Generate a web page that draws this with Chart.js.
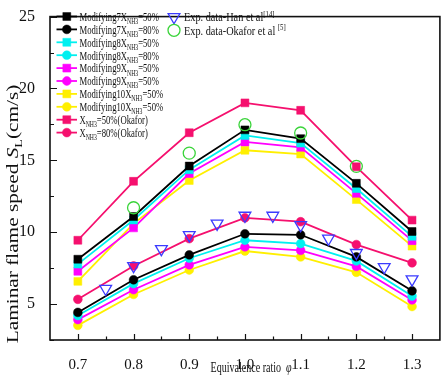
<!DOCTYPE html>
<html>
<head>
<meta charset="utf-8">
<script src="https://cdn.jsdelivr.net/npm/chart.js@4"></script>
<style>
  html, body { margin: 0; padding: 0; background: #fff; }
  #wrap { width: 448px; height: 384px; position: relative; }
</style>
</head>
<body>
<div id="wrap"><canvas id="chart"></canvas></div>
<script>
// ─── DATA ────────────────────────────────────────────────────
const phi = [0.7, 0.8, 0.9, 1.0, 1.1, 1.2, 1.3];

const mod7_50  = [8.12, 11.09, 14.60, 17.12, 16.51, 13.40, 10.05];
const mod7_80  = [4.42, 6.69, 8.42, 9.89, 9.82, 8.28, 5.92];
const mod8_50  = [7.78, 10.85, 14.35, 16.73, 16.20, 13.04, 9.71];
const mod8_80  = [4.20, 6.42, 8.19, 9.44, 9.21, 8.00, 5.56];
const mod9_50  = [7.28, 10.30, 14.08, 16.28, 15.90, 12.70, 9.41];
const mod9_80  = [3.92, 6.00, 7.73, 8.98, 8.73, 7.62, 5.29];
const mod10_50 = [6.58, 10.60, 13.60, 15.70, 15.44, 12.27, 9.03];
const mod10_80 = [3.52, 5.67, 7.37, 8.69, 8.28, 7.21, 4.83];
const okafor50 = [9.44, 13.54, 16.92, 19.00, 18.48, 14.55, 10.84];
const okafor80 = [5.33, 7.65, 9.55, 11.00, 10.73, 9.14, 7.87];

const hanPhi   = [0.75, 0.8, 0.85, 0.9, 0.95, 1.0, 1.05, 1.1, 1.15, 1.2, 1.25, 1.3];
const hanSpeed = [6.07, 7.65, 8.83, 9.80, 10.60, 11.15, 11.15, 10.50, 9.56, 8.56, 7.58, 6.72];

const okaforExpPhi   = [0.8, 0.9, 1.0, 1.1, 1.2];
const okaforExpSpeed = [11.70, 15.50, 17.48, 16.90, 14.58];

// ticks (minor ones unlabelled)
const xTickValues = [0.7, 0.75, 0.8, 0.85, 0.9, 0.95, 1.0, 1.05, 1.1, 1.15, 1.2, 1.25, 1.3];
const xMajor  = [0.7, 0.8, 0.9, 1.0, 1.1, 1.2, 1.3];
const xLabels = ['0.7', '0.8', '0.9', '1.0', '1.1', '1.2', '1.3'];
const yTickValues = [2.5, 5, 7.5, 10, 12.5, 15, 17.5, 20, 22.5, 25];
const yMajor  = [5, 10, 15, 20, 25];
const yLabels = ['5', '10', '15', '20', '25'];

// ─── COLOURS ─────────────────────────────────────────────────
const BLACK = '#000000', CYAN = '#00f0f0', MAGENTA = '#ff00ff',
      YELLOW = '#ffef00', PINK = '#f5106e', BLUE = '#3b3bff', GREEN = '#3ad43a';
const SERIF = '"Liberation Serif", "Times New Roman", serif';

function lineSet(label, values, color, style, order) {
    return {
        label,
        data: phi.map((x, i) => ({ x, y: values[i] })),
        borderColor: color,
        backgroundColor: color,
        pointStyle: style,
        pointRadius: style === 'rect' ? 5.6 : 4.4,
        pointBorderWidth: 0.5,
        pointBorderColor: color,
        borderWidth: 1.8,
        tension: 0,
        order
    };
}

const datasets = [
    lineSet('Modifying7X_{NH3}=50%',  mod7_50,  BLACK,   'rect',   2),
    lineSet('Modifying7X_{NH3}=80%',  mod7_80,  BLACK,   'circle', 2),
    lineSet('Modifying8X_{NH3}=50%',  mod8_50,  CYAN,    'rect',   3),
    lineSet('Modifying8X_{NH3}=80%',  mod8_80,  CYAN,    'circle', 3),
    lineSet('Modifying9X_{NH3}=50%',  mod9_50,  MAGENTA, 'rect',   4),
    lineSet('Modifying9X_{NH3}=50%',  mod9_80,  MAGENTA, 'circle', 4),
    lineSet('Modifying10X_{NH3}=50%', mod10_50, YELLOW,  'rect',   5),
    lineSet('Modifying10X_{NH3}=50%', mod10_80, YELLOW,  'circle', 5),
    lineSet('X_{NH3}=50%(Okafor)',    okafor50, PINK,    'rect',   6),
    lineSet('X_{NH3}=80%(Okafor)',    okafor80, PINK,    'circle', 6),
    {
        label: 'Exp. data-Han et al^{[14]}',
        data: hanPhi.map((x, i) => ({ x, y: hanSpeed[i] })),
        showLine: false,
        pointStyle: 'triangle',
        pointRotation: 180,
        pointRadius: 6.8,
        pointBorderWidth: 1.3,
        borderColor: BLUE,
        backgroundColor: 'rgba(0,0,0,0)',
        order: 0
    },
    {
        label: 'Exp. data-Okafor et al ^{[5]}',
        data: okaforExpPhi.map((x, i) => ({ x, y: okaforExpSpeed[i] })),
        showLine: false,
        pointStyle: 'circle',
        pointRadius: 6,
        pointBorderWidth: 1.3,
        borderColor: GREEN,
        backgroundColor: 'rgba(0,0,0,0)',
        order: 0
    }
];

// ─── RICH TEXT (sub / superscript / italic) ──────────────────
function parseRich(str) {
    const out = [];
    const re = /([_^~])\{([^}]*)\}/g;
    let last = 0, m;
    while ((m = re.exec(str))) {
        if (m.index > last) out.push({ t: str.slice(last, m.index), k: '' });
        out.push({ t: m[2], k: m[1] });
        last = re.lastIndex;
    }
    if (last < str.length) out.push({ t: str.slice(last), k: '' });
    return out;
}

function drawRich(ctx, str, x, y, size, sx, align) {
    const parts = parseRich(str);
    const fontFor = p => (p.k === '~' ? 'italic ' : '') +
        ((p.k === '_' || p.k === '^') ? size * 0.66 : size) + 'px ' + SERIF;
    let w = 0;
    parts.forEach(p => { ctx.font = fontFor(p); p.w = ctx.measureText(p.t).width; w += p.w; });
    ctx.save();
    ctx.translate(x, y);
    ctx.scale(sx, 1);
    ctx.textAlign = 'left';
    ctx.textBaseline = 'alphabetic';
    ctx.fillStyle = '#111';
    let cx = align === 'center' ? -w / 2 : 0;
    parts.forEach(p => {
        ctx.font = fontFor(p);
        const dy = p.k === '_' ? size * 0.24 : p.k === '^' ? -size * 0.36 : 0;
        ctx.fillText(p.t, cx, dy);
        cx += p.w;
    });
    ctx.restore();
}

function drawMarker(ctx, ds, x, y) {
    const r = ds.pointRadius;
    ctx.beginPath();
    if (ds.pointStyle === 'rect') {
        const s = r * Math.SQRT1_2;
        ctx.rect(x - s, y - s, 2 * s, 2 * s);
    } else if (ds.pointStyle === 'triangle') {
        const h = r * Math.sin(Math.PI / 3);
        ctx.moveTo(x - h, y - r / 2);
        ctx.lineTo(x + h, y - r / 2);
        ctx.lineTo(x, y + r);
        ctx.closePath();
    } else {
        ctx.arc(x, y, r, 0, Math.PI * 2);
    }
    ctx.fillStyle = ds.backgroundColor;
    ctx.fill();
    ctx.lineWidth = ds.pointBorderWidth;
    ctx.strokeStyle = ds.borderColor;
    ctx.stroke();
}

// ─── PLUGINS: frame, inward ticks, titles, legend ────────────
const decorPlugin = {
    id: 'decor',
    beforeDatasetsDraw(chart) {
        const { ctx, chartArea: a, scales } = chart;
        ctx.save();
        ctx.strokeStyle = '#111';
        ctx.lineWidth = 1.2;
        ctx.beginPath();
        scales.x.ticks.forEach(t => {
            const px = Math.round(scales.x.getPixelForValue(t.value)) + 0.5;
            const len = t.label ? 6 : 3.5;
            ctx.moveTo(px, a.bottom); ctx.lineTo(px, a.bottom - len);
        });
        scales.y.ticks.forEach(t => {
            const py = Math.round(scales.y.getPixelForValue(t.value)) + 0.5;
            const len = t.label ? 7 : 4;
            ctx.moveTo(a.left, py); ctx.lineTo(a.left + len, py);
        });
        ctx.stroke();
        ctx.lineWidth = 1.6;
        ctx.strokeRect(a.left, a.top, a.right - a.left, a.bottom - a.top);
        ctx.restore();
    },
    afterDraw(chart) {
        const ctx = chart.ctx;
        // axis titles
        drawRich(ctx, 'Equivalence ratio  ~{φ}', 210.5, 372, 15, 0.67, 'left');
        ctx.save();
        ctx.translate(18, 214);
        ctx.rotate(-Math.PI / 2);
        drawRich(ctx, 'Laminar flame speed ~{S}_{L}(cm/s)', 0, 0, 16, 1.33, 'center');
        ctx.restore();

        // legend, column 1
        const ds = chart.data.datasets;
        for (let i = 0; i < 10; i++) {
            const y = 16.5 + i * 12.9;
            ctx.save();
            ctx.strokeStyle = ds[i].borderColor;
            ctx.lineWidth = 1.8;
            ctx.beginPath(); ctx.moveTo(56.5, y); ctx.lineTo(77, y); ctx.stroke();
            drawMarker(ctx, ds[i], 66.8, y);
            ctx.restore();
            drawRich(ctx, ds[i].label, 79.5, y + 4.3, 13, 0.665, 'left');
        }
        // legend, column 2
        for (let i = 10; i < 12; i++) {
            const y = 17 + (i - 10) * 13.3;
            ctx.save();
            drawMarker(ctx, ds[i], 174, y);
            ctx.restore();
            drawRich(ctx, ds[i].label, 184, y + 4.3, 13, 0.79, 'left');
        }
    }
};

// ─── CHART ───────────────────────────────────────────────────
new Chart(document.getElementById('chart'), {
    type: 'line',
    data: { datasets },
    options: {
        responsive: true,
        maintainAspectRatio: false,
        animation: false,
        layout: { padding: { left: 0, top: 10, right: 8, bottom: 0 } },
        plugins: { legend: { display: false }, tooltip: { enabled: false } },
        scales: {
            x: {
                type: 'linear',
                min: 0.65, max: 1.35,
                afterBuildTicks: s => { s.ticks = xTickValues.map(v => ({ value: v })); },
                afterFit: s => { s.height = 44; },
                grid: { display: false },
                border: { display: false },
                ticks: {
                    autoSkip: false, maxRotation: 0, padding: 8,
                    color: '#111', font: { family: SERIF, size: 15 },
                    callback: v => {
                        const i = xMajor.findIndex(m => Math.abs(m - v) < 1e-6);
                        return i >= 0 ? xLabels[i] : '';
                    }
                }
            },
            y: {
                min: 2.5, max: 25,
                afterBuildTicks: s => { s.ticks = yTickValues.map(v => ({ value: v })); },
                afterFit: s => { s.width = 50; },
                grid: { display: false },
                border: { display: false },
                ticks: {
                    autoSkip: false, padding: 7,
                    color: '#111', font: { family: SERIF, size: 16 },
                    callback: v => {
                        const i = yMajor.findIndex(m => Math.abs(m - v) < 1e-6);
                        return i >= 0 ? yLabels[i] : '';
                    }
                }
            }
        }
    },
    plugins: [decorPlugin]
});
</script>
</body>
</html>
